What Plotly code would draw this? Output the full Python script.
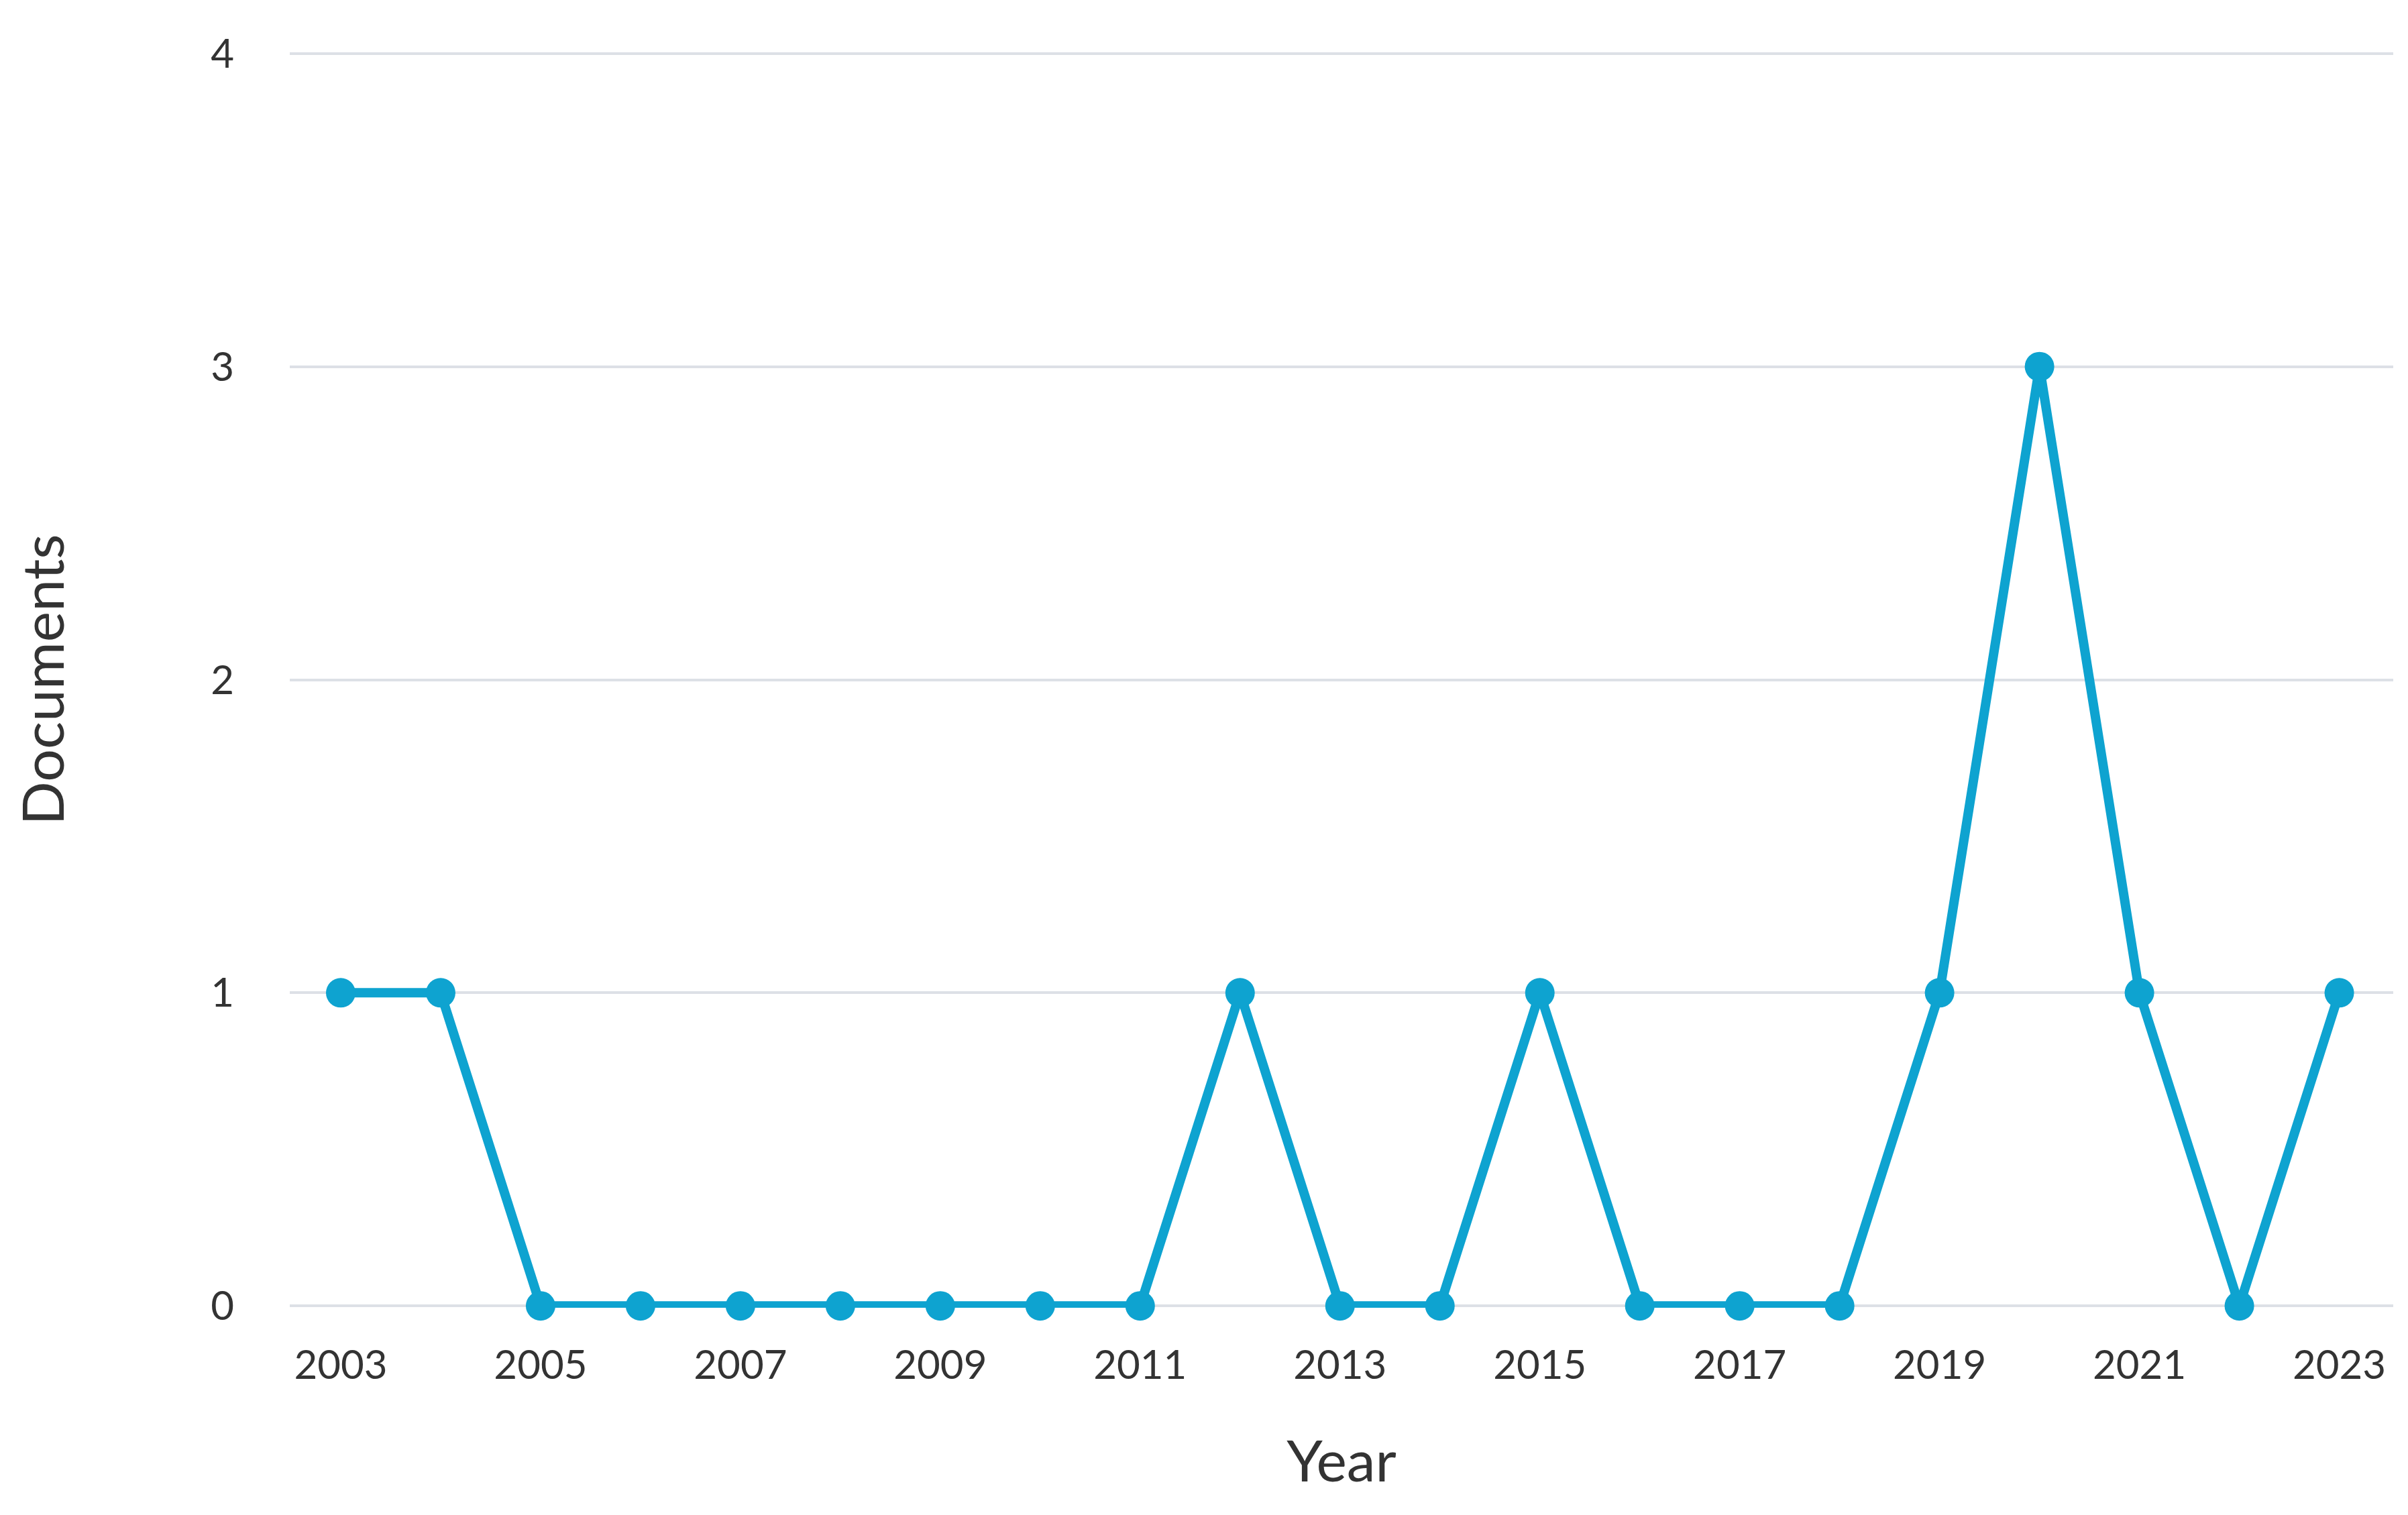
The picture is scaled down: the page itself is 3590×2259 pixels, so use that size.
import plotly.graph_objects as go

years = list(range(2003, 2024))
documents = [1, 1, 0, 0, 0, 0, 0, 0, 0, 1, 0, 0, 1, 0, 0, 0, 1, 3, 1, 0, 1]
tick_years = list(range(2003, 2024, 2))

color = "#0ea3d0"
fig = go.Figure(go.Scatter(
    x=years, y=documents, mode="lines+markers", cliponaxis=False,
    line=dict(color=color, width=14),
    marker=dict(color=color, size=44),
))
font = "Lato, 'Open Sans', sans-serif"
fig.update_layout(
    width=3590, height=2259, paper_bgcolor="white", plot_bgcolor="white",
    margin=dict(l=424, r=30, t=69, b=317),
    showlegend=False, font=dict(family=font, color="#333333", size=60),
    xaxis=dict(range=[2002.49, 2023.54], tickvals=tick_years, showgrid=False,
               zeroline=False, ticks="",
               title=dict(text="Year", font=dict(size=86), standoff=80)),
    yaxis=dict(range=[-0.006, 4.006], tickvals=[0, 1, 2, 3, 4], showgrid=True,
               gridcolor="#dde0e6", gridwidth=4, zeroline=False, ticks="outside",
               tickcolor="white", ticklen=70,
               title=dict(text="Documents", font=dict(size=86), standoff=190)),
)
fig.update_xaxes(ticklabelstandoff=45)
fig.write_html("out.html")
